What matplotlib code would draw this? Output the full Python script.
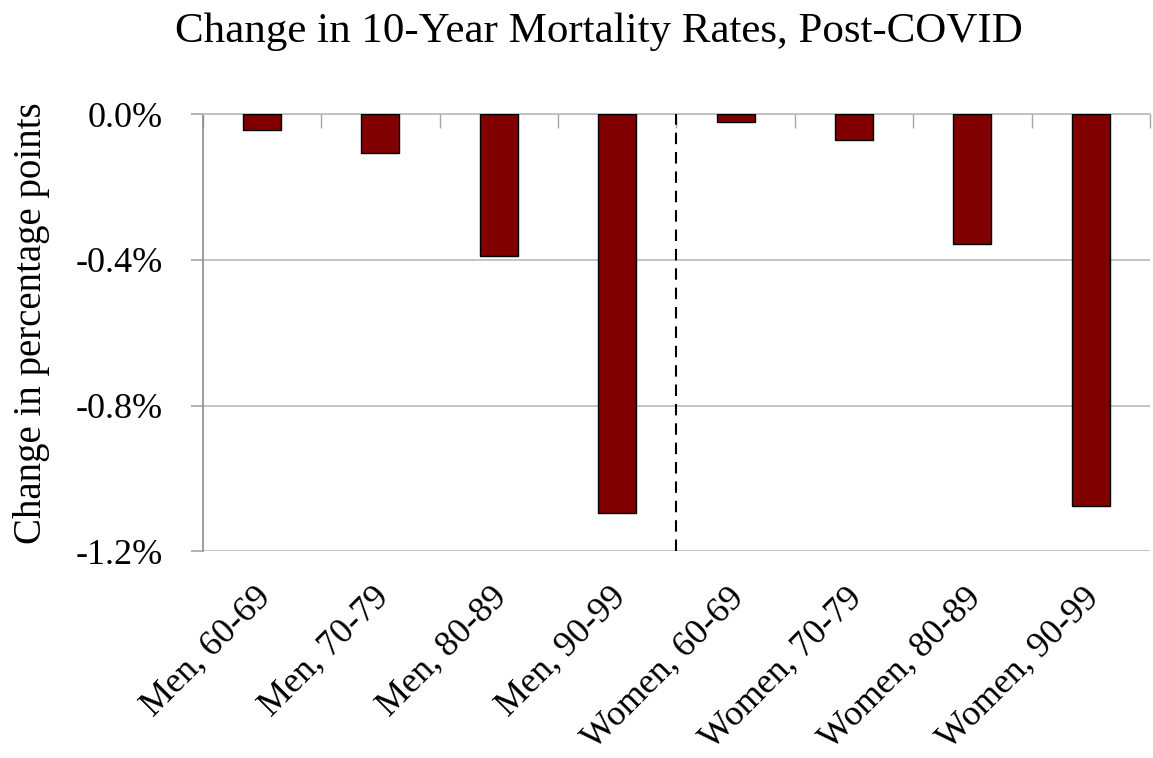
import matplotlib
matplotlib.use('Agg')
import matplotlib.pyplot as plt
import matplotlib.transforms as mtransforms
from matplotlib.ticker import FuncFormatter
import numpy as np

# change in 10-year mortality, percentage points
groups = ['Men, 60-69', 'Men, 70-79', 'Men, 80-89', 'Men, 90-99',
          'Women, 60-69', 'Women, 70-79', 'Women, 80-89', 'Women, 90-99']
changes = [-0.043, -0.107, -0.390, -1.096,
           -0.021, -0.070, -0.358, -1.075]
yticks = [-1.2, -0.8, -0.4, 0.0]

plt.rcParams['font.family'] = ['Liberation Serif', 'DejaVu Serif']

fig = plt.figure(figsize=(11.53, 7.58), dpi=100)
ax = fig.add_axes([0.1758, 0.2727, 0.8216, 0.5769])

x = np.arange(len(groups))
ax.bar(x, changes, width=0.32, color='#800000', edgecolor='black',
       linewidth=1.0, zorder=3)

ax.set_xlim(-0.5, len(groups) - 0.5)
ax.set_ylim(-1.2, 0.0)

# horizontal gridlines
ax.set_yticks(yticks)
ax.yaxis.set_major_formatter(FuncFormatter(lambda v, p: '%.1f%%' % v))
ax.grid(axis='y', color='#bfbfbf', linewidth=1.3, zorder=0)
ax.set_axisbelow(True)

# men / women divider
ax.axvline(3.5, color='black', linestyle=(0, (5.5, 3.8)),
           linewidth=1.5, zorder=4)

for side in ['right', 'bottom']:
    ax.spines[side].set_visible(False)
ax.spines['left'].set_color('#8c8c8c')
ax.spines['left'].set_linewidth(1.2)
ax.spines['top'].set_color('#bfbfbf')
ax.spines['top'].set_linewidth(1.3)

ax.tick_params(axis='y', direction='out', length=9, color='#a6a6a6',
               width=1.2, labelsize=26, pad=20)

# category labels under the plot, boundary ticks along the zero line
ax.set_xticks(x)
ax.set_xticklabels(groups, rotation=45, ha='right', va='top',
                   rotation_mode='anchor', fontsize=26)
ax.set_xticks(np.arange(len(groups) + 1) - 0.5, minor=True)
ax.tick_params(axis='x', which='major', bottom=False, top=False, pad=18)
ax.tick_params(axis='x', which='minor', bottom=False, top=True,
               direction='in', length=10, color='#a6a6a6', width=1.0)
shift = mtransforms.ScaledTranslation(-8 / 100, 0, fig.dpi_scale_trans)
for lbl in ax.get_xticklabels():
    lbl.set_transform(lbl.get_transform() + shift)

fig.text(32 / 1153, 1 - 323 / 758, 'Change in percentage points',
         rotation=90, ha='center', va='center', fontsize=28)

fig.text(0.519, 1 - 42 / 758, 'Change in 10-Year Mortality Rates, Post-COVID',
         ha='center', va='baseline', fontsize=31)

plt.savefig('out.png', dpi=100)
